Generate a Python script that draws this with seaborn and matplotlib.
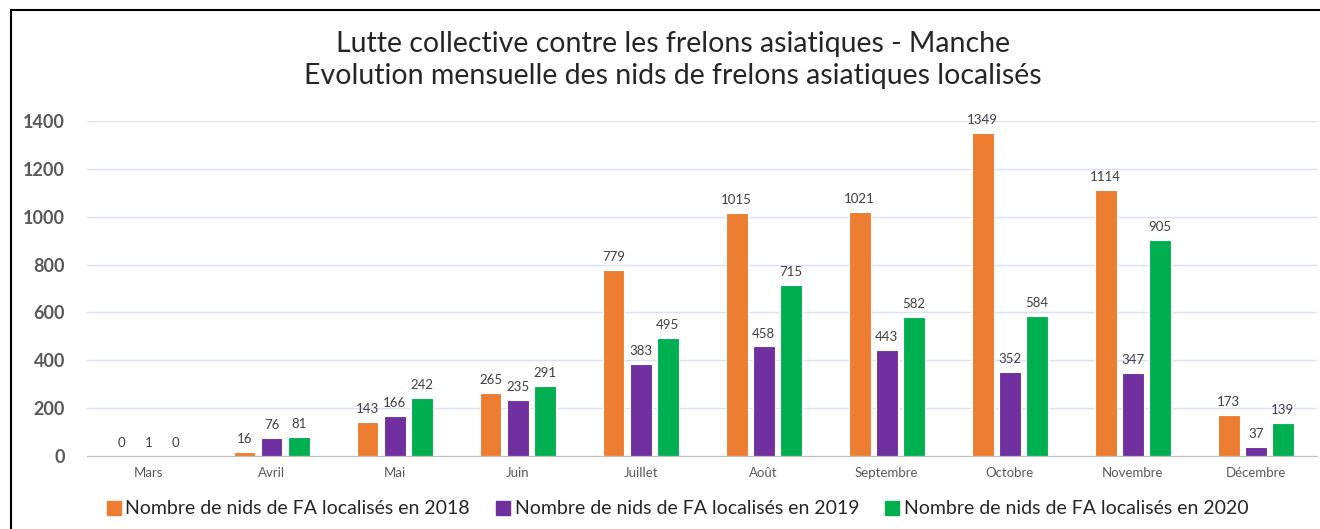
import pandas as pd
import matplotlib.pyplot as plt
import seaborn as sns
from matplotlib.lines import Line2D

# donnees
mois = ['Mars', 'Avril', 'Mai', 'Juin', 'Juillet', 'Août', 'Septembre',
        'Octobre', 'Novembre', 'Décembre']
nids_2018 = [0, 16, 143, 265, 779, 1015, 1021, 1349, 1114, 173]
nids_2019 = [1, 76, 166, 235, 383, 458, 443, 352, 347, 37]
nids_2020 = [0, 81, 242, 291, 495, 715, 582, 584, 905, 139]
series = ['Nombre de nids de FA localisés en 2018',
          'Nombre de nids de FA localisés en 2019',
          'Nombre de nids de FA localisés en 2020']
couleurs = ['#ED7D31', '#7030A0', '#00B050']

df = pd.DataFrame({'mois': mois * 3,
                   'nids': nids_2018 + nids_2019 + nids_2020,
                   'serie': [series[0]] * 10 + [series[1]] * 10 + [series[2]] * 10})

sns.set_style('white')
plt.rcParams['font.family'] = ['Lato', 'DejaVu Sans']

fig = plt.figure(figsize=(13.2, 5.29), dpi=100)
ax = fig.add_axes([0.066, 0.138, 0.932, 0.633])

sns.barplot(data=df, x='mois', y='nids', hue='serie', palette=couleurs,
            saturation=1, width=0.66, gap=0.2, edgecolor='white', linewidth=0.8,
            order=mois, hue_order=series, ax=ax, legend=False)

for cont in ax.containers:
    ax.bar_label(cont, padding=5, fontsize=9.5, color='#404040')

ax.set_ylim(0, 1400)
ax.set_xlim(-0.5, 9.5)
ax.set_yticks(range(0, 1401, 200))
ax.yaxis.grid(True, color='#D9E1F2', linewidth=1)
ax.set_axisbelow(True)
for s in ['top', 'right', 'left']:
    ax.spines[s].set_visible(False)
ax.spines['bottom'].set_color('#BFBFBF')
ax.set_xlabel('')
ax.set_ylabel('')
ax.tick_params(axis='y', length=0, pad=16, labelsize=13, labelcolor='#595959')
for t in ax.get_yticklabels():
    t.set_fontweight('bold')
ax.tick_params(axis='x', which='major', length=0, pad=8, labelsize=9.5, labelcolor='#595959')
ax.set_xticks([i - 0.5 for i in range(11)], minor=True)
ax.tick_params(axis='x', which='minor', length=5, color='#BFBFBF')

fig.text(0.51, 0.887, 'Lutte collective contre les frelons asiatiques - Manche\n'
         'Evolution mensuelle des nids de frelons asiatiques localisés',
         ha='center', va='center', fontsize=20.5, linespacing=1.3)

poignees = [Line2D([], [], marker='s', linestyle='none', markersize=10,
                   markerfacecolor=c, markeredgecolor=c) for c in couleurs]
fig.legend(poignees, series, loc='center', bbox_to_anchor=(0.513, 0.038), ncol=3,
           frameon=False, fontsize=14, handletextpad=0.2, columnspacing=1.3,
           handlelength=0.8)

# cadre
fig.add_artist(Line2D([0.0083, 1.0], [0.981, 0.981], color='black', linewidth=1.5,
                      transform=fig.transFigure))
fig.add_artist(Line2D([0.0083, 0.0083], [0.0, 0.981], color='black', linewidth=1.5,
                      transform=fig.transFigure))

fig.savefig('out.png', dpi=100)
